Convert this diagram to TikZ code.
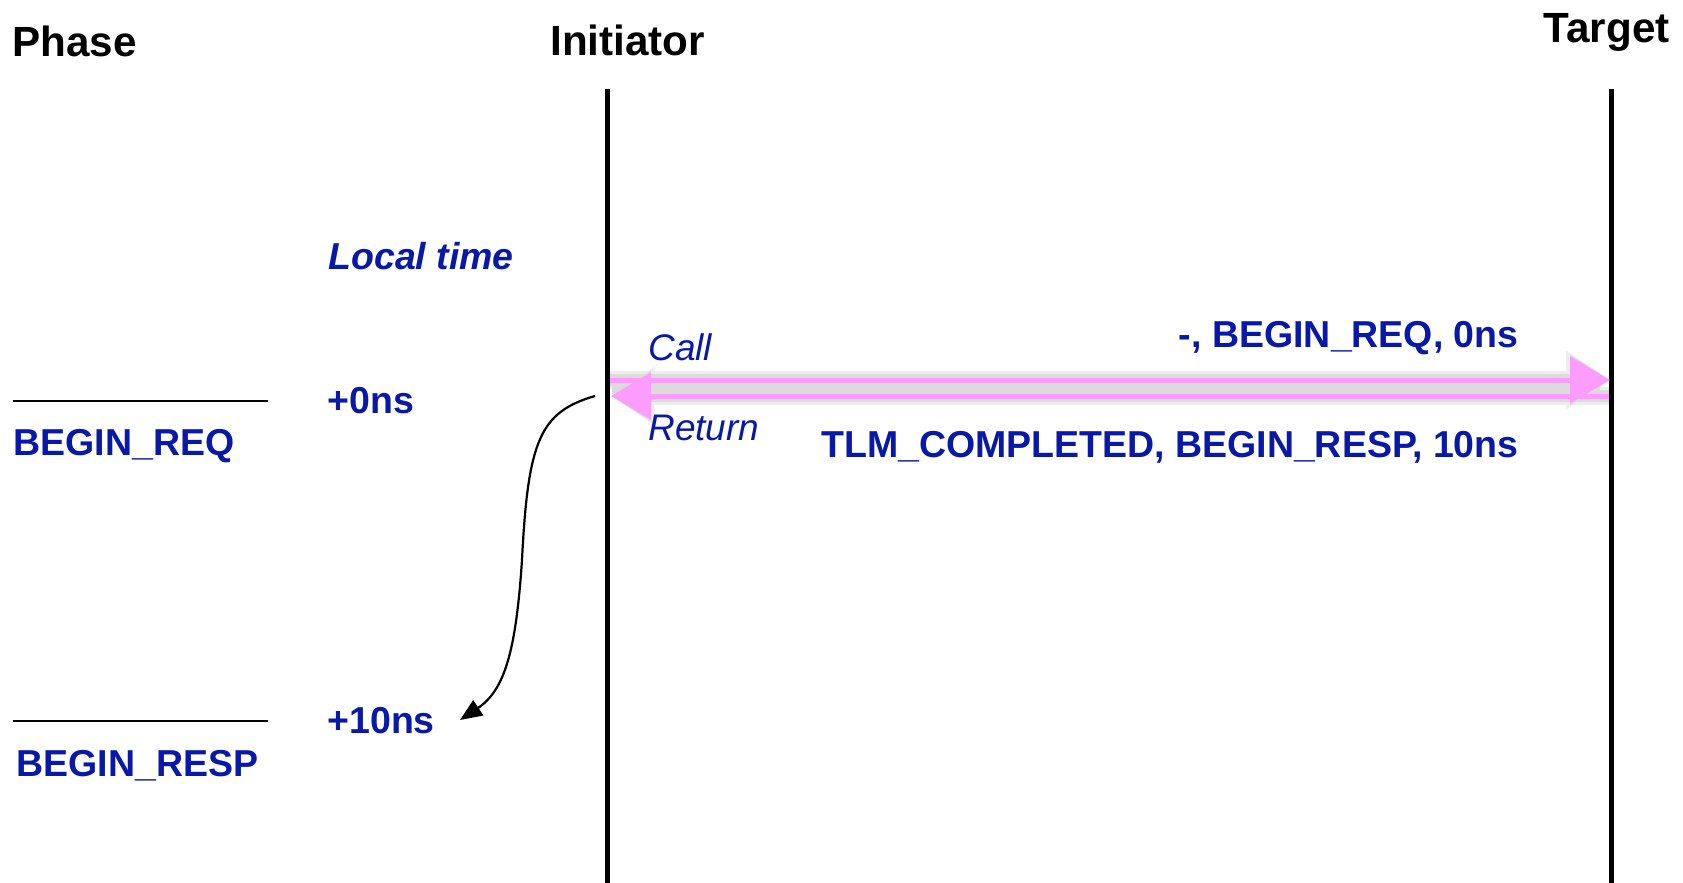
\documentclass[tikz,border=0pt]{standalone}
\usepackage{fontspec}
\setmainfont{Liberation Sans}
\usetikzlibrary{arrows.meta}

\definecolor{labelblue}{RGB}{8,24,168}
\definecolor{msgpink}{RGB}{252,156,252}

\tikzset{
  x=0.5pt, y=-0.5pt,
  heading/.style={inner sep=0pt, font=\fontsize{21.1pt}{25pt}\selectfont\bfseries},
  bluelabel/.style={inner sep=0pt, text=labelblue, font=\fontsize{18.75pt}{22pt}\selectfont\bfseries},
  bluecall/.style={inner sep=0pt, text=labelblue, font=\fontsize{18.5pt}{22pt}\selectfont\itshape},
  lifeline/.style={line width=2.5pt, black},
  phaseline/.style={line width=0.75pt, black},
  msg/.style={line width=2.5pt, msgpink, -{Triangle[length=20pt,width=23pt]}},
  msgshadow/.style={line width=9pt, black!7, -{Triangle[length=22pt,width=28pt]}},
  msgshadowcore/.style={line width=6pt, black!14, -{Triangle[length=20pt,width=24pt]}},
  localstep/.style={line width=1.1pt, black, -{Triangle[length=11pt,width=9pt]}}
}

\begin{document}
\begin{tikzpicture}
\useasboundingbox (0,0) rectangle (1683,883);

% column headings
\node[heading, anchor=base west] (phase) at (12,57) {Phase};
\node[heading, anchor=base west] (initiator) at (550,56) {Initiator};
\node[heading, anchor=base east] (target) at (1670,43) {Target};

% lifeline end points
\coordinate (iTop) at (607,89);
\coordinate (iBot) at (607,883);
\coordinate (tTop) at (1611,89);
\coordinate (tBot) at (1611,883);

% message arrows between the lifelines
\coordinate (callFrom) at (610,380);
\coordinate (callTo) at (1610,380);
\coordinate (retFrom) at (1609,396);
\coordinate (retTo) at (611,396);

% soft shadow under the arrows
\begin{scope}[shift={(4,9)}]
  \draw[msgshadow] (callFrom) -- (callTo);
  \draw[msgshadow] (retFrom) -- (retTo);
\end{scope}
\begin{scope}[shift={(3,7)}]
  \draw[msgshadowcore] (callFrom) -- (callTo);
  \draw[msgshadowcore] (retFrom) -- (retTo);
\end{scope}
\fill[black!14] (612,382) rectangle (1600,394);

% lifelines
\draw[lifeline] (iTop) -- (iBot);
\draw[lifeline] (tTop) -- (tBot);

\draw[msg] (callFrom) -- (callTo);
\draw[msg] (retFrom) -- (retTo);

% phase markers
\coordinate (reqL) at (13,401);
\coordinate (reqR) at (268,401);
\coordinate (respL) at (13,721);
\coordinate (respR) at (268,721);
\draw[phaseline] (reqL) -- (reqR);
\draw[phaseline] (respL) -- (respR);
\node[bluelabel, anchor=base west] (beginreq) at (13,455) {BEGIN\_REQ};
\node[bluelabel, anchor=base west] (beginresp) at (16,776) {BEGIN\_RESP};

% local time annotations
\node[bluelabel, anchor=base west] (localtime) at (328,270) {\itshape Local time};
\node[bluelabel, anchor=base west] (t0) at (327,413) {+0ns};
\node[bluelabel, anchor=base west] (t10) at (327,733) {+10ns};

% message labels
\node[bluecall, anchor=base west] (call) at (648,360) {Call};
\node[bluecall, anchor=base west] (return) at (648,440) {Return};
\node[bluelabel, anchor=base east] (fwd) at (1519,347) {-, BEGIN\_REQ, 0ns};
\node[bluelabel, anchor=base east] (bwd) at (1519,457) {TLM\_COMPLETED, BEGIN\_RESP, 10ns};

% local time advance of the initiator
\coordinate (stepFrom) at (595,396);
\coordinate (stepTo) at (460,720);
\draw[localstep] (stepFrom) .. controls (540,412) and (528,440) .. (522,560)
                 .. controls (516,650) and (505,690) .. (stepTo);
\end{tikzpicture}
\end{document}
